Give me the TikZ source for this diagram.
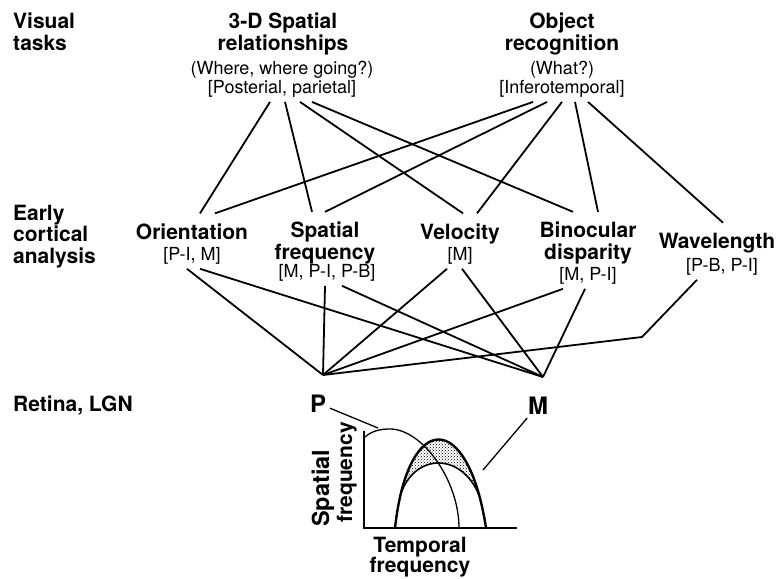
\documentclass[tikz,border=0pt]{standalone}
\usepackage{fontspec}
\setmainfont{TeX Gyre Heros}
\usetikzlibrary{patterns}
\tikzset{heading/.style = {font=\fontsize{21}{21.5}\selectfont\bfseries, align=center,
                           inner sep=0pt, outer sep=10pt, anchor=base},
         detail/.style = {font=\fontsize{18}{18.5}\selectfont, align=center,
                          inner sep=0pt, outer sep=5pt, anchor=base},
         rowname/.style = {font=\fontsize{21}{21.5}\selectfont\bfseries, align=left,
                           inner sep=0pt, anchor=base west},
         cell/.style = {font=\fontsize{24}{24}\selectfont\bfseries, inner sep=0pt,
                        outer sep=4pt, anchor=base},
         link/.style = {line width=1.8pt}}

\begin{document}
\begin{tikzpicture}[x=1pt, y=-1pt]
    \useasboundingbox (0, 0) rectangle (778, 578);

    % levels (base = last line)
    \node (lvtask) [rowname] at (13, 50) {Visual\\tasks};
    \node (lvearly) [rowname] at (13, 263) {Early\\cortical\\analysis};
    \node (lvret) [rowname] at (13, 411) {Retina, LGN};

    % visual tasks
    \node (sp3d) [heading] at (283, 50) {3-D Spatial\\relationships};
    \node (sp3dx) [detail] at (282, 93) {(Where, where going?)\\{[Posterial, parietal]}};
    \node (objrec) [heading] at (562, 50) {Object\\recognition};
    \node (objrecx) [detail] at (562, 93) {(What?)\\{[Inferotemporal]}};

    % early cortical analysis
    \node (orient) [heading] at (192, 239) {Orientation};
    \node (orientx) [detail] at (192, 260) {[P-I, M]};
    \node (spfreq) [heading] at (325, 259) {Spatial\\frequency};
    \node (spfreqx) [detail] at (327, 277) {[M, P-I, P-B]};
    \node (veloc) [heading] at (460, 239) {Velocity};
    \node (velocx) [detail] at (460, 260) {[M]};
    \node (binoc) [heading] at (588, 259) {Binocular\\disparity};
    \node (binocx) [detail] at (588, 280) {[M, P-I]};
    \node (wavel) [heading] at (717, 248) {Wavelength};
    \node (wavelx) [detail] at (722, 271) {[P-B, P-I]};

    % retina
    \node (plab) [cell] at (318, 412) {P};
    \node (mlab) [cell] at (538, 414) {M};
    \coordinate (pv) at (323, 375);
    \coordinate (mv) at (543, 377);
    \coordinate (bend) at (642, 337);

    \draw [link] ([xshift=-12pt]sp3dx.south) -- ([xshift=8pt]orient.north);
    \draw [link] ([xshift=3pt]sp3dx.south) -- ([xshift=-13pt]spfreq.north);
    \draw [link] ([xshift=18pt]sp3dx.south) -- ([xshift=3pt]veloc.north);
    \draw [link] ([xshift=30pt]sp3dx.south) -- ([xshift=-15pt]binoc.north);
    \draw [link] ([xshift=-29pt]objrecx.south) -- ([xshift=23pt]orient.north);
    \draw [link] ([xshift=-15pt]objrecx.south) -- (spfreq.north);
    \draw [link] (objrecx.south) -- ([xshift=17pt]veloc.north);
    \draw [link] ([xshift=13pt]objrecx.south) -- ([xshift=10pt]binoc.north);
    \draw [link] ([xshift=26pt]objrecx.south) -- ([xshift=6pt]wavel.north);

    \draw [link] ([xshift=-5pt]orientx.south) -- (pv);
    \draw [link] ([xshift=8pt]orientx.south) -- (mv);
    \draw [link] ([xshift=-2pt]spfreqx.south) -- (pv);
    \draw [link] ([xshift=15pt]spfreqx.south) -- (mv);
    \draw [link] ([xshift=-13pt]velocx.south) -- (pv);
    \draw [link] ([xshift=2pt]velocx.south) -- (mv);
    \draw [link] ([xshift=-25pt]binocx.south) -- (pv);
    \draw [link] ([xshift=-3pt]binocx.south) -- (mv);
    \draw [link] ([xshift=-25pt]wavelx.south) -- (bend) -- (pv);

    % response plot
    \fill [pattern=crosshatch dots] (395, 528) .. controls (408, 410) and (468, 410) .. (486, 528)
        -- (479.4, 496) .. controls (462, 452) and (414, 452) .. (400, 496) -- cycle;
    \draw [line width=2.4pt] (395, 528) .. controls (408, 410) and (468, 410) .. (486, 528);
    \draw [line width=1.6pt] (400, 496) .. controls (414, 452) and (462, 452) .. (479.4, 496);
    \draw [line width=1.3pt] (365, 437) .. controls (372, 431) and (380, 429) .. (390, 429)
        .. controls (422, 429) and (459, 480) .. (459, 528);
    \draw [line width=1.6pt] (364, 431) -- (364, 528) -- (517, 528);

    \coordinate (ptip) at (378, 428);
    \coordinate (mtip) at (483, 470);
    \draw [line width=1.3pt] (plab) -- (ptip);
    \draw [line width=1.3pt] (mlab) -- (mtip);

    \node (ylaba) [rotate=90, anchor=base west, inner sep=0pt,
                   font=\fontsize{23.5}{24}\selectfont\bfseries] at (329, 527) {Spatial};
    \node (ylabb) [rotate=90, anchor=base west, inner sep=0pt,
                   font=\fontsize{21}{21}\selectfont\bfseries] at (352, 523) {frequency};
    \node (xlab) [heading, font=\fontsize{21}{20}\selectfont\bfseries] at (420, 572) {Temporal\\frequency};
\end{tikzpicture}
\end{document}
